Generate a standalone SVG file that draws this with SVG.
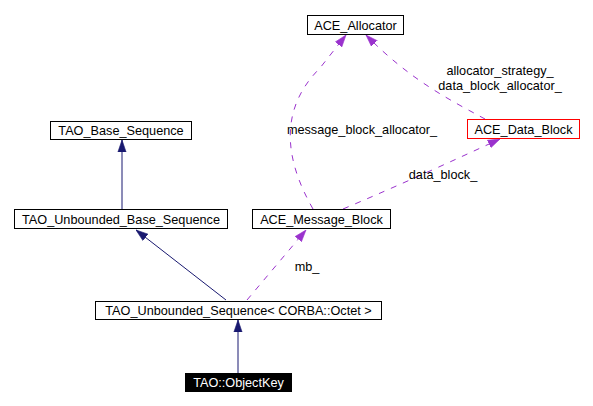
<svg xmlns="http://www.w3.org/2000/svg" width="593" height="406" viewBox="0 0 593 406">
<style>
.n rect{fill:#fff;stroke:#000;stroke-width:1}
text{font-family:"Liberation Sans",Arial,sans-serif;font-size:12.7px;text-anchor:middle;fill:#000}
.inh{fill:none;stroke:#191970;stroke-width:1}
.use{fill:none;stroke:#9a32cd;stroke-width:1;stroke-dasharray:6,7}
</style>
<defs>
<marker id="ah" viewBox="0 0 10 10" refX="10" refY="5" markerWidth="12" markerHeight="12" markerUnits="userSpaceOnUse" orient="auto">
<path d="M0,1.6 L10,5 L0,8.4 Z" fill="#191970" stroke="#191970" stroke-width="0.5"/>
</marker>
<marker id="ap" viewBox="0 0 10 10" refX="10" refY="5" markerWidth="12" markerHeight="12" markerUnits="userSpaceOnUse" orient="auto">
<path d="M0,1.6 L10,5 L0,8.4 Z" fill="#9a32cd" stroke="#9a32cd" stroke-width="0.5"/>
</marker>
</defs>
<rect width="593" height="406" fill="#fff"/>
<g id="connectors">
<path class="inh" d="M122,209 L122,140" marker-end="url(#ah)"/>
<path class="inh" d="M226,300 L136,230" marker-end="url(#ah)"/>
<path class="inh" d="M238,373 L238,320" marker-end="url(#ah)"/>
<path class="use" d="M247,300 L306,230" marker-end="url(#ap)"/>
<path class="use" d="M313,209 C285,160 278,110 320,68 L346,35" marker-end="url(#ap)"/>
<path class="use" d="M485,119 C450,100 410,80 366,35" marker-end="url(#ap)"/>
<path class="use" d="M343,209 C400,185 450,162 500,139" marker-end="url(#ap)"/>
<text x="307" y="271">mb_</text>
<text x="362" y="134">message_block_allocator_</text>
<text x="500" y="75">allocator_strategy_</text>
<text x="500" y="90">data_block_allocator_</text>
<text x="443" y="179">data_block_</text>
</g>
<g id="ACE_Allocator" class="n"><rect x="307.5" y="15.5" width="96" height="19"/><text x="355.5" y="29.5">ACE_Allocator</text></g>
<g id="ACE_Data_Block" class="n"><rect x="467.5" y="119.5" width="112" height="19" style="stroke:#ff0000"/><text x="523.5" y="133.5">ACE_Data_Block</text></g>
<g id="TAO_Base_Sequence" class="n"><rect x="50.5" y="121.5" width="141" height="18"/><text x="121" y="135">TAO_Base_Sequence</text></g>
<g id="TAO_Unbounded_Base_Sequence" class="n"><rect x="14.5" y="209.5" width="213" height="19"/><text x="121" y="223.5">TAO_Unbounded_Base_Sequence</text></g>
<g id="ACE_Message_Block" class="n"><rect x="252.5" y="209.5" width="138" height="19"/><text x="321.5" y="223.5">ACE_Message_Block</text></g>
<g id="TAO_Unbounded_Sequence" class="n"><rect x="95.5" y="301.5" width="286" height="18"/><text x="238.5" y="315">TAO_Unbounded_Sequence&lt; CORBA::Octet &gt;</text></g>
<g id="TAO_ObjectKey"><rect x="185" y="373" width="107" height="19" fill="#000"/><text x="238.5" y="387" style="fill:#fff">TAO::ObjectKey</text></g>
</svg>
